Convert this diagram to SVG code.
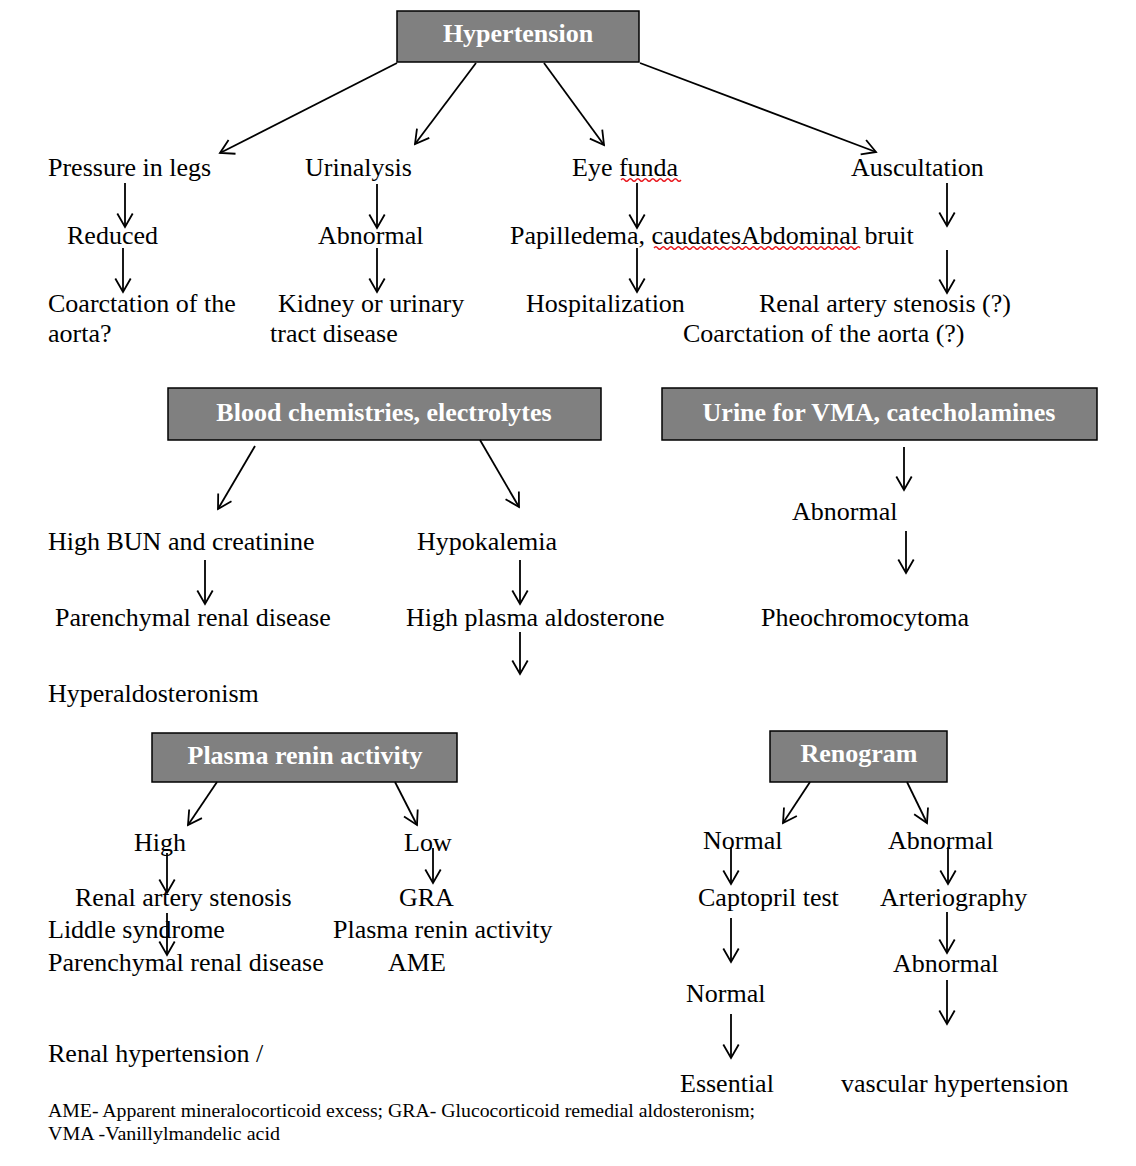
<svg xmlns="http://www.w3.org/2000/svg" width="1136" height="1166" viewBox="0 0 1136 1166">
<style>
.t{font-family:"Liberation Serif","Times New Roman",serif;font-size:26px;fill:#000}
.b{font-family:"Liberation Serif","Times New Roman",serif;font-size:26px;font-weight:bold;fill:#fff;text-anchor:middle}
.box{fill:#808080;stroke:#000;stroke-width:1.5}
.c line{stroke:#000;stroke-width:1.8;marker-end:url(#ah)}
.f{font-family:"Liberation Serif","Times New Roman",serif;font-size:18px;fill:#000}
.w{fill:none;stroke:#e8141b;stroke-width:1.3}
</style>
<defs>
<marker id="ah" markerUnits="userSpaceOnUse" viewBox="-15 -10 17 20" refX="0" refY="0" markerWidth="17" markerHeight="20" orient="auto">
<path d="M-13.5,-7.7 L0,0 L-13.5,7.7" fill="none" stroke="#000" stroke-width="1.8"/>
</marker>
</defs>
<rect width="1136" height="1166" fill="#fff"/>

<g id="hypertension"><rect class="box" x="397" y="11" width="242" height="51"/><text class="b" x="518" y="42">Hypertension</text></g>
<g id="pressure-legs"><text class="t" x="48" y="176">Pressure in legs</text></g>
<g id="urinalysis"><text class="t" x="305" y="176">Urinalysis</text></g>
<g id="eye-funda"><text class="t" x="572" y="176">Eye funda</text><path class="w" d="M621,180 q1.9,-2.5 3.75,0 t3.75,0 t3.75,0 t3.75,0 t3.75,0 t3.75,0 t3.75,0 t3.75,0 t3.75,0 t3.75,0 t3.75,0 t3.75,0 t3.75,0 t3.75,0 t3.75,0 t3.75,0"/></g>
<g id="auscultation"><text class="t" x="851" y="176">Auscultation</text></g>
<g id="reduced"><text class="t" x="67" y="244">Reduced</text></g>
<g id="abnormal-urine"><text class="t" x="318" y="244">Abnormal</text></g>
<g id="papilledema"><text class="t" x="510" y="244">Papilledema, caudatesAbdominal bruit</text><path class="w" d="M654,248 q1.9,-2.5 3.75,0 t3.75,0 t3.75,0 t3.75,0 t3.75,0 t3.75,0 t3.75,0 t3.75,0 t3.75,0 t3.75,0 t3.75,0 t3.75,0 t3.75,0 t3.75,0 t3.75,0 t3.75,0 t3.75,0 t3.75,0 t3.75,0 t3.75,0 t3.75,0 t3.75,0 t3.75,0 t3.75,0 t3.75,0 t3.75,0 t3.75,0 t3.75,0 t3.75,0 t3.75,0 t3.75,0 t3.75,0 t3.75,0 t3.75,0 t3.75,0 t3.75,0 t3.75,0 t3.75,0 t3.75,0 t3.75,0 t3.75,0 t3.75,0 t3.75,0 t3.75,0 t3.75,0 t3.75,0 t3.75,0 t3.75,0 t3.75,0 t3.75,0 t3.75,0 t3.75,0 t3.75,0 t3.75,0 t3.75,0"/></g>
<g id="coarctation"><text class="t" x="48" y="312">Coarctation of the</text><text class="t" x="48" y="342">aorta?</text></g>
<g id="kidney"><text class="t" x="278" y="312">Kidney or urinary</text><text class="t" x="270" y="342">tract disease</text></g>
<g id="hospitalization"><text class="t" x="526" y="312">Hospitalization</text></g>
<g id="renal-stenosis-q"><text class="t" x="759" y="312">Renal artery stenosis (?)</text><text class="t" x="683" y="342">Coarctation of the aorta (?)</text></g>

<g id="blood-chem"><rect class="box" x="168" y="388" width="433" height="52"/><text class="b" x="384" y="421">Blood chemistries, electrolytes</text></g>
<g id="urine-vma"><rect class="box" x="662" y="388" width="435" height="52"/><text class="b" x="879" y="421">Urine for VMA, catecholamines</text></g>
<g id="high-bun"><text class="t" x="48" y="550">High BUN and creatinine</text></g>
<g id="hypokalemia"><text class="t" x="417" y="550">Hypokalemia</text></g>
<g id="abnormal-vma"><text class="t" x="792" y="520">Abnormal</text></g>
<g id="parenchymal-1"><text class="t" x="55" y="626">Parenchymal renal disease</text></g>
<g id="high-aldo"><text class="t" x="406" y="626">High plasma aldosterone</text></g>
<g id="pheo"><text class="t" x="761" y="626">Pheochromocytoma</text></g>
<g id="hyperaldo"><text class="t" x="48" y="702">Hyperaldosteronism</text></g>

<g id="plasma-renin"><rect class="box" x="152" y="733" width="305" height="49"/><text class="b" x="305" y="764">Plasma renin activity</text></g>
<g id="renogram"><rect class="box" x="770" y="731" width="177" height="51"/><text class="b" x="859" y="762">Renogram</text></g>
<g id="high"><text class="t" x="134" y="851">High</text></g>
<g id="low"><text class="t" x="404" y="851">Low</text></g>
<g id="high-list"><text class="t" x="75" y="906">Renal artery stenosis</text><text class="t" x="48" y="938">Liddle syndrome</text><text class="t" x="48" y="971">Parenchymal renal disease</text></g>
<g id="low-list"><text class="t" x="399" y="906">GRA</text><text class="t" x="333" y="938">Plasma renin activity</text><text class="t" x="388" y="971">AME</text></g>
<g id="normal-1"><text class="t" x="703" y="849">Normal</text></g>
<g id="abnormal-reno"><text class="t" x="888" y="849">Abnormal</text></g>
<g id="captopril"><text class="t" x="698" y="906">Captopril test</text></g>
<g id="arteriography"><text class="t" x="880" y="906">Arteriography</text></g>
<g id="abnormal-arterio"><text class="t" x="893" y="972">Abnormal</text></g>
<g id="normal-2"><text class="t" x="686" y="1002">Normal</text></g>
<g id="renal-hypertension"><text class="t" x="48" y="1062">Renal hypertension /</text></g>
<g id="essential"><text class="t" x="680" y="1092">Essential</text></g>
<g id="vascular"><text class="t" x="841" y="1092">vascular hypertension</text></g>

<g id="footer"><text class="f" x="48" y="1117" textLength="707" lengthAdjust="spacingAndGlyphs">AME- Apparent mineralocorticoid excess; GRA- Glucocorticoid remedial aldosteronism;</text><text class="f" x="48" y="1140" textLength="232" lengthAdjust="spacingAndGlyphs">VMA -Vanillylmandelic acid</text></g>

<g id="connectors" class="c">
<line x1="397" y1="63" x2="220" y2="153"/>
<line x1="476" y1="63" x2="415" y2="144"/>
<line x1="544" y1="63" x2="604" y2="145"/>
<line x1="640" y1="63" x2="876" y2="152"/>
<line x1="125" y1="183" x2="125" y2="227"/>
<line x1="123" y1="248" x2="123" y2="292"/>
<line x1="377" y1="184" x2="377" y2="228"/>
<line x1="377" y1="248" x2="377" y2="292"/>
<line x1="637" y1="183" x2="637" y2="228"/>
<line x1="637" y1="248" x2="637" y2="292"/>
<line x1="947" y1="183" x2="947" y2="226"/>
<line x1="947" y1="250" x2="947" y2="293"/>
<line x1="255" y1="446" x2="218" y2="509"/>
<line x1="480" y1="440" x2="519" y2="507"/>
<line x1="904" y1="447" x2="904" y2="490"/>
<line x1="906" y1="531" x2="906" y2="573"/>
<line x1="205" y1="560" x2="205" y2="604"/>
<line x1="520" y1="560" x2="520" y2="604"/>
<line x1="520" y1="632" x2="520" y2="674"/>
<line x1="217" y1="782" x2="188" y2="825"/>
<line x1="395" y1="782" x2="417" y2="825"/>
<line x1="167" y1="853" x2="167" y2="893"/>
<line x1="167" y1="913" x2="167" y2="955"/>
<line x1="433" y1="848" x2="433" y2="883"/>
<line x1="810" y1="782" x2="783" y2="823"/>
<line x1="907" y1="782" x2="927" y2="823"/>
<line x1="731" y1="847" x2="731" y2="884"/>
<line x1="948" y1="847" x2="948" y2="884"/>
<line x1="731" y1="918" x2="731" y2="962"/>
<line x1="947" y1="912" x2="947" y2="953"/>
<line x1="947" y1="980" x2="947" y2="1024"/>
<line x1="731" y1="1014" x2="731" y2="1058"/>
</g>
</svg>
